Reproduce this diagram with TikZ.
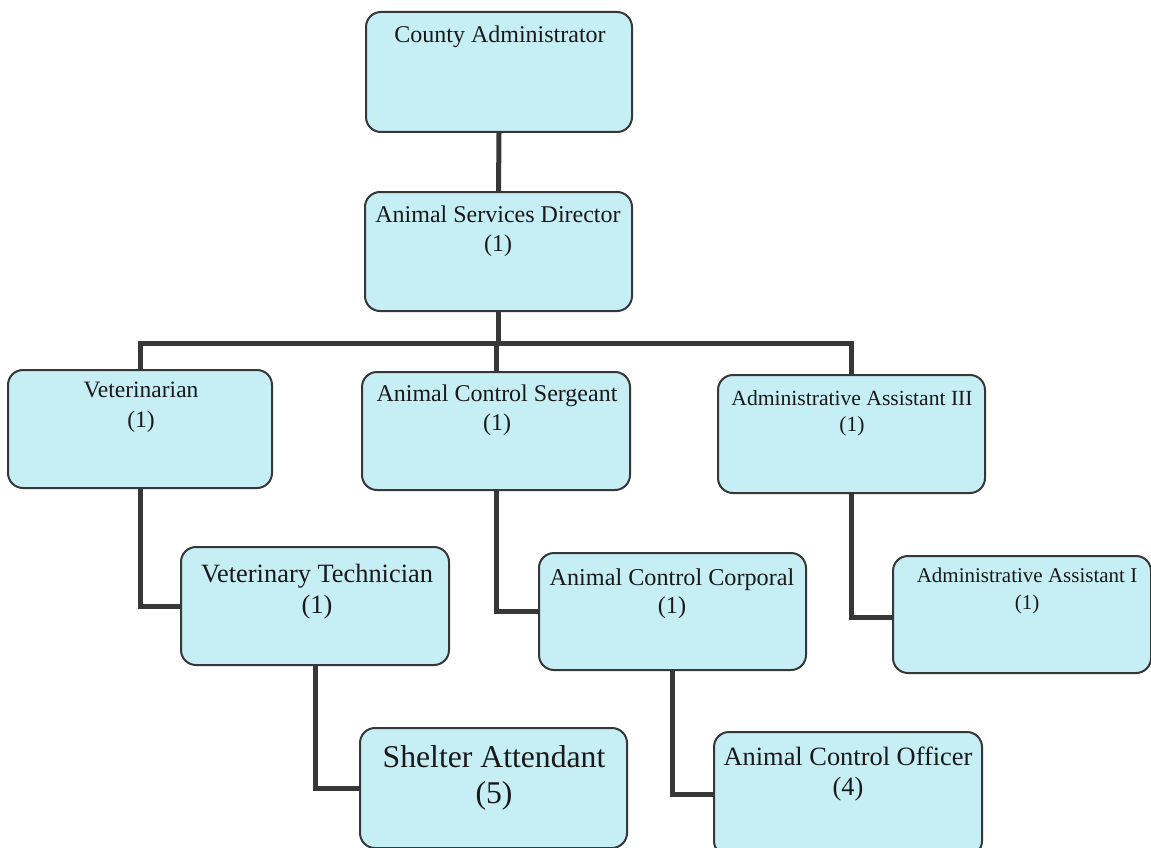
\documentclass[tikz,border=0pt]{standalone}
\usepackage{fontspec}
\setmainfont{Liberation Serif}
\usetikzlibrary{fit,backgrounds}
\definecolor{boxfill}{RGB}{198,238,245}
\definecolor{boxline}{RGB}{55,55,55}
\definecolor{txt}{RGB}{25,25,25}
\tikzset{
  obox/.style={draw=boxline, fill=boxfill, line width=2pt, rounded corners=15pt, inner sep=0pt},
  conn/.style={draw=boxline, line width=5pt, line join=miter},
  lbl/.style={anchor=base, inner sep=0pt, text=txt}
}
\newcommand\fs[1]{\fontsize{#1}{#1}\selectfont}
\begin{document}
\begin{tikzpicture}[x=1pt, y=-1pt]
\useasboundingbox (0,0) rectangle (1151,848);
\clip (0,0) rectangle (1151,848);

% boxes
\node[obox, fit={(366,12) (632,132)}] (ca) {};
\node[obox, fit={(365,192) (632,311)}] (asd) {};
\node[obox, fit={(8,370) (272,488)}] (vet) {};
\node[obox, fit={(362,372) (630,490)}] (acs) {};
\node[obox, fit={(718,375) (985,493)}] (aa3) {};
\node[obox, fit={(181,547) (449,665)}] (vt) {};
\node[obox, fit={(539,553) (806,670)}] (acc) {};
\node[obox, fit={(893,556) (1151,673)}] (aa1) {};
\node[obox, fit={(360,728) (627,848)}] (sa) {};
\node[obox, fit={(714,732) (982,856)}] (aco) {};
\coordinate (bus) at (498.5,343);

% connectors behind the boxes
\begin{scope}[on background layer]
\fill[white] (0,0) rectangle (1151,848);
\draw[conn] (ca.south) -- (asd.north);
\draw[conn] (asd.south) -- (bus);
\draw[conn] (vet.north) -- (vet.north |- bus) -- (aa3.north |- bus) -- (aa3.north);
\draw[conn] (acs.north) -- (acs.north |- bus);
\draw[conn] (vet.south) |- (vt.west);
\draw[conn] (acs.south) |- (acc.west);
\draw[conn] (aa3.south) |- ([yshift=-3pt]aa1.west);
\draw[conn] (vt.south) |- (sa.west);
\draw[conn] (acc.south) |- (aco.west);
\end{scope}

% labels
\node[lbl, font=\fs{24}] (ca-1) at (500,43) {County Administrator};
\node[lbl, font=\fs{24}] (asd-1) at (498,222) {Animal Services Director};
\node[lbl, font=\fs{24}] (asd-2) at (498,251) {(1)};
\node[lbl, font=\fs{23.5}] (vet-1) at (141,397) {Veterinarian};
\node[lbl, font=\fs{23.5}] (vet-2) at (141,427) {(1)};
\node[lbl, font=\fs{24}] (acs-1) at (497,401) {Animal Control Sergeant};
\node[lbl, font=\fs{24}] (acs-2) at (497,430) {(1)};
\node[lbl, font=\fs{21.6}] (aa3-1) at (852,405) {Administrative Assistant III};
\node[lbl, font=\fs{21.6}] (aa3-2) at (852,431) {(1)};
\node[lbl, font=\fs{26.4}] (vt-1) at (317,582) {Veterinary Technician};
\node[lbl, font=\fs{26.4}] (vt-2) at (317,613) {(1)};
\node[lbl, font=\fs{24.2}] (acc-1) at (672,585) {Animal Control Corporal};
\node[lbl, font=\fs{24.2}] (acc-2) at (672,613) {(1)};
\node[lbl, font=\fs{21}] (aa1-1) at (1027,582) {Administrative Assistant I};
\node[lbl, font=\fs{21}] (aa1-2) at (1027,609) {(1)};
\node[lbl, font=\fs{31.7}] (sa-1) at (494,767) {Shelter Attendant};
\node[lbl, font=\fs{31.7}] (sa-2) at (494,803) {(5)};
\node[lbl, font=\fs{26.4}] (aco-1) at (848,765) {Animal Control Officer};
\node[lbl, font=\fs{26.4}] (aco-2) at (848,795) {(4)};
\end{tikzpicture}
\end{document}
